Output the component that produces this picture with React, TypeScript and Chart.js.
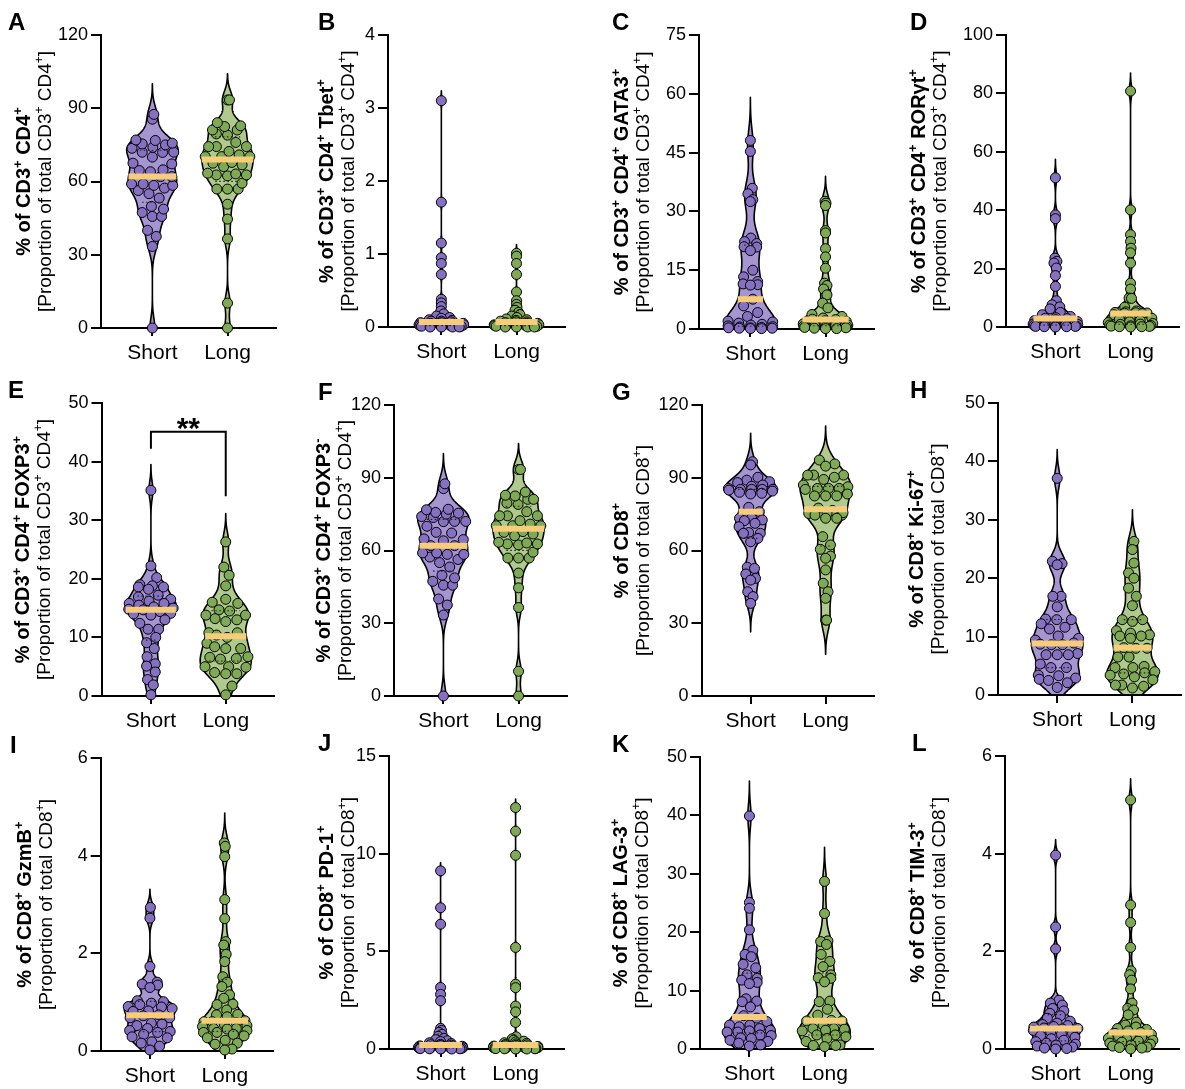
import React, { useEffect, useRef } from "react";
import { Chart, registerables } from "chart.js";

Chart.register(...registerables);

const FAMILY = "'Liberation Sans', Arial, Helvetica, sans-serif";

const categories = ["Short", "Long"];

// ---------- data ----------
const aShort = [0, 33.4, 37.5, 40, 45.7, 45.7, 47.3, 48.7, 49.8, 53.2, 55, 56.3, 57.3, 58.4, 58.4, 59, 59, 62, 62, 64, 64.5, 64.8, 67.2, 67.5, 70, 71.9, 72, 72, 73.6, 74, 75, 75.4, 75.7, 76.8, 77, 85.5, 87.5];
const aLong = [0, 10.2, 36.5, 44.6, 50.7, 56.9, 56.9, 56.9, 59.3, 62.3, 62.7, 62.7, 63.1, 63.4, 66.1, 66.8, 67.5, 67.8, 70.2, 70.2, 70.2, 70.9, 72.3, 74.3, 74.3, 74.3, 76, 79, 79.5, 81.1, 81.1, 82.5, 82.8, 84.1, 93.4, 93.4];

const bShort = [3.1, 1.71, 1.15, 0.95, 0.87, 0.72, 0.38, 0.33, 0.28, 0.22, 0.18, 0.15, 0.13, 0.12, 0.1, 0.09, 0.08, 0.08, 0.07, 0.06, 0.06, 0.05, 0.05, 0.04, 0.04, 0.03, 0.03, 0.02, 0.02, 0.02, 0.01, 0.01, 0.01, 0, 0, 0, 0];
const bLong = [1.01, 0.97, 0.87, 0.72, 0.48, 0.36, 0.31, 0.27, 0.23, 0.2, 0.17, 0.15, 0.13, 0.11, 0.1, 0.09, 0.08, 0.07, 0.07, 0.06, 0.05, 0.05, 0.04, 0.04, 0.03, 0.03, 0.02, 0.02, 0.02, 0.01, 0.01, 0.01, 0, 0, 0, 0];

const cShort = [48.1, 45.3, 35.9, 34.5, 33, 32.5, 23.2, 22.3, 21.8, 21, 20.9, 20, 15, 13.3, 12.1, 11.5, 11.3, 11.2, 7.6, 5.9, 4.2, 3.2, 2, 1.8, 1.5, 1.2, 1, 0.8, 0.6, 0.5, 0.4, 0.3, 0.3, 0.2, 0.2, 0.1, 0.1];
const cLong = [32.6, 32.1, 31.5, 25.1, 24.5, 20.5, 18.4, 15.5, 11.7, 11.1, 10.2, 8.7, 6.6, 5.4, 3.7, 3.2, 2.8, 2.5, 2.4, 2.1, 1.9, 1.7, 1.5, 1.3, 1.2, 1.0, 0.9, 0.8, 0.7, 0.6, 0.5, 0.4, 0.3, 0.2, 0.1, 0.1];

const dShort = [51.1, 38.4, 37.1, 23.6, 22.5, 21.9, 20.2, 17.6, 13.9, 9, 7.6, 6.9, 6.2, 5, 4.2, 3.6, 3.2, 3, 2.9, 2.5, 2.2, 1.9, 1.6, 1.4, 1.2, 1, 0.9, 0.7, 0.6, 0.5, 0.4, 0.3, 0.2, 0.2, 0.1, 0.1, 0];
const dLong = [80.8, 40.1, 31.6, 29.3, 27, 25.4, 21.9, 15, 13, 9.9, 9.8, 6.8, 5.5, 5.2, 5, 4.9, 4.8, 4.7, 4.6, 4.2, 3.3, 3, 2.6, 2.2, 1.8, 1.5, 1.2, 1, 0.9, 0.7, 0.5, 0.4, 0.3, 0.2, 0.1, 0.1, 0];

const eShort = [35.1, 22.2, 20.2, 19, 18.8, 18.6, 18.6, 18.2, 17.2, 16.9, 16.5, 16.2, 15.8, 15.8, 15.5, 15.2, 15, 14.8, 14.7, 14.4, 14.1, 14, 13.8, 13, 12.4, 11.4, 11.4, 10, 9.1, 8.1, 6.7, 5.5, 5.1, 4.1, 2.8, 1.9, 0.2];
const eLong = [26.3, 22, 20.6, 18.8, 16.5, 16, 15.8, 14.7, 14.5, 13.8, 13.8, 13.2, 13, 12.7, 10.8, 10.8, 10.4, 10, 9, 8.4, 8.1, 8.1, 6.7, 6.6, 6.4, 6.3, 5, 5, 4.9, 4, 3.8, 3.8, 1.7, 0.2];

const fShort = [...aShort];
const fLong = [...aLong];

const gShort = [96.6, 95.3, 90.2, 89, 88.4, 88, 87, 86.5, 85.6, 85.2, 85.2, 85.2, 85.2, 84.9, 84.5, 84, 83.6, 83.3, 77.8, 76, 73.3, 73.3, 72.6, 72.3, 71.2, 69.8, 67.4, 67.1, 67.1, 65, 63.6, 53.1, 52.6, 50.3, 48.5, 47.8, 43, 41, 38.2];
const gLong = [97.3, 95.7, 94.8, 91.1, 91.1, 91.1, 90.2, 89.3, 87, 86.3, 85.6, 85.6, 85.6, 85.2, 83.3, 82.5, 82.5, 82.5, 77.5, 76.5, 75.3, 75.3, 74.6, 74.6, 75.6, 73.3, 73.3, 65.7, 62.3, 60.5, 57.7, 56.8, 52, 46.5, 43, 40.3, 31.3, 31.3];

const hShort = [37.1, 22.9, 22.5, 22.3, 16.9, 16.9, 15.1, 13, 12.9, 12.9, 12.2, 11.6, 11.3, 10.1, 9.7, 9.4, 8.9, 8.7, 8.6, 8.6, 7.1, 6.9, 6.9, 6.9, 5.3, 4.7, 4.7, 3.4, 3.3, 2.9, 2.7, 2.5, 2.1, 1.3];
const hLong = [26.3, 24.9, 22.6, 20.9, 20, 18.3, 16.9, 15.3, 12.9, 12.9, 12.6, 11, 10.6, 10.3, 10.1, 10.1, 9.7, 8.1, 8, 8, 6.5, 6.5, 4.9, 4.7, 4.7, 4, 3.8, 3.6, 3.4, 3.1, 2.6, 1.7, 1.7, 1.5, 1.2];

const iShort = [2.94, 2.72, 1.73, 1.41, 1.37, 1.35, 1.3, 1.03, 1.01, 0.98, 0.95, 0.91, 0.9, 0.87, 0.82, 0.81, 0.74, 0.72, 0.68, 0.68, 0.57, 0.55, 0.52, 0.46, 0.42, 0.4, 0.38, 0.34, 0.29, 0.27, 0.19, 0.16, 0.1, 0.02];
const iLong = [4.26, 4.19, 3.98, 3.1, 2.71, 2.24, 2.17, 1.98, 1.83, 1.52, 1.41, 1.32, 1.15, 1.08, 0.96, 0.95, 0.84, 0.75, 0.74, 0.7, 0.62, 0.6, 0.6, 0.58, 0.55, 0.52, 0.5, 0.46, 0.46, 0.45, 0.42, 0.38, 0.38, 0.34, 0.31, 0.27, 0.22, 0.16, 0.14, 0.04, 0.02];

const jShort = [9.12, 7.23, 6.39, 3.15, 2.8, 2.47, 1.06, 0.95, 0.85, 0.75, 0.65, 0.55, 0.48, 0.42, 0.38, 0.32, 0.28, 0.24, 0.22, 0.2, 0.18, 0.16, 0.14, 0.12, 0.1, 0.09, 0.08, 0.07, 0.06, 0.05, 0.04, 0.03, 0.02, 0.02, 0.01, 0.01, 0, 0];
const jLong = [12.36, 11.15, 9.92, 5.2, 3.32, 3.14, 2.2, 1.9, 1.36, 0.63, 0.52, 0.45, 0.4, 0.36, 0.32, 0.29, 0.26, 0.23, 0.21, 0.19, 0.17, 0.15, 0.13, 0.11, 0.1, 0.09, 0.08, 0.07, 0.06, 0.05, 0.04, 0.03, 0.02, 0.02, 0.01, 0.01, 0, 0];

const kShort = [39.9, 25.1, 24.1, 20.4, 16.9, 16.2, 15.8, 14.5, 13.9, 12.7, 12.1, 11.8, 11.4, 11.2, 8.6, 8.2, 8.1, 7.2, 5.7, 5.3, 4.7, 4.1, 4.1, 3.8, 3.5, 3.2, 3.1, 2.9, 2.9, 2.4, 2.3, 1.9, 1.8, 1.5, 1.3, 1.0, 0.7, 0.5];
const kLong = [28.7, 23.2, 18.5, 18.4, 17.9, 16.2, 15, 14.1, 12.7, 12.2, 12.1, 11.5, 8.2, 8.1, 6.8, 5.8, 4.9, 4.8, 4.8, 4.1, 3.5, 3.5, 3.4, 3.2, 3.1, 2.4, 2.4, 2.1, 1.8, 1.3, 0.7, 0.6, 0.6, 0.4];

const lShort = [3.97, 2.5, 2.05, 1.0, 0.94, 0.9, 0.83, 0.78, 0.73, 0.68, 0.63, 0.57, 0.53, 0.5, 0.48, 0.46, 0.45, 0.43, 0.42, 0.41, 0.38, 0.35, 0.32, 0.3, 0.27, 0.24, 0.21, 0.18, 0.15, 0.12, 0.1, 0.08, 0.06, 0.04, 0.02, 0.01, 0];
const lLong = [5.1, 2.95, 2.59, 2.08, 1.6, 1.52, 1.41, 1.23, 0.94, 0.83, 0.8, 0.7, 0.55, 0.49, 0.45, 0.42, 0.4, 0.37, 0.34, 0.32, 0.3, 0.28, 0.26, 0.24, 0.22, 0.2, 0.18, 0.16, 0.14, 0.12, 0.1, 0.08, 0.06, 0.04, 0.03, 0.02, 0];

// axis maxima and tick steps
const yMaxes = [120, 4, 75, 100, 50, 120, 120, 50, 6, 15, 50, 6];
const ySteps = [30, 1, 15, 20, 10, 30, 30, 10, 2, 5, 10, 2];

const letters = ["A", "B", "C", "D", "E", "F", "G", "H", "I", "J", "K", "L"];
const titles = [
  "% of CD3^+ CD4^+",
  "% of CD3^+ CD4^+ Tbet^+",
  "% of CD3^+ CD4^+ GATA3^+",
  "% of CD3^+ CD4^+ RORγt^+",
  "% of CD3^+ CD4^+ FOXP3^+",
  "% of CD3^+ CD4^+ FOXP3^-",
  "% of CD8^+",
  "% of CD8^+ Ki-67^+",
  "% of CD8^+ GzmB^+",
  "% of CD8^+ PD-1^+",
  "% of CD8^+ LAG-3^+",
  "% of CD8^+ TIM-3^+",
];
const SUB_CD4 = "[Proportion of total CD3^+ CD4^+]";
const SUB_CD8 = "[Proportion of total CD8^+]";
const subtitles = [SUB_CD4, SUB_CD4, SUB_CD4, SUB_CD4, SUB_CD4, SUB_CD4, SUB_CD8, SUB_CD8, SUB_CD8, SUB_CD8, SUB_CD8, SUB_CD8];
const shortSeries = [aShort, bShort, cShort, dShort, eShort, fShort, gShort, hShort, iShort, jShort, kShort, lShort];
const longSeries = [aLong, bLong, cLong, dLong, eLong, fLong, gLong, hLong, iLong, jLong, kLong, lLong];

// significance annotation for panel E (bracket height, leg ends, label)
const sigPanel = 4;
const sigBracket = { top: 45.1, leftEnd: 42.2, rightEnd: 34.1, label: "**" };

// ---------- layout (page pixels) ----------
const layouts = [
  { axisX: 101, shortX: 154, top: 35, h: 293, colLeft: 0, titleX: 23, letterX: 8 },
  { axisX: 388, shortX: 443, top: 35, h: 292, colLeft: 296, titleX: 326, letterX: 318 },
  { axisX: 699, shortX: 752, top: 35, h: 294, colLeft: 592, titleX: 621, letterX: 612 },
  { axisX: 1006, shortX: 1057, top: 35, h: 292, colLeft: 888, titleX: 918, letterX: 910 },
  { axisX: 101.5, shortX: 152.7, top: 403, h: 293, colLeft: 0, titleX: 22, letterX: 8 },
  { axisX: 394, shortX: 445, top: 405, h: 291, colLeft: 296, titleX: 323, letterX: 318 },
  { axisX: 701.5, shortX: 752.3, top: 405, h: 291, colLeft: 592, titleX: 621, letterX: 612 },
  { axisX: 998, shortX: 1059, top: 403, h: 292, colLeft: 888, titleX: 916, letterX: 910 },
  { axisX: 100.7, shortX: 151.7, top: 758, h: 293, colLeft: 0, titleX: 24, letterX: 10 },
  { axisX: 389, shortX: 442.3, top: 756, h: 293, colLeft: 296, titleX: 326, letterX: 318 },
  { axisX: 700, shortX: 751, top: 757, h: 292, colLeft: 592, titleX: 620, letterX: 612 },
  { axisX: 1005, shortX: 1057.3, top: 756, h: 293, colLeft: 888, titleX: 917, letterX: 912 },
];

const PX_PER_CAT = 77.5;
const VIOLIN_HALF_PX = 26.5;
const BANDWIDTH_SCALE = 0.6;
const PAD_T = 32;
const PAD_B = 48;
const POINT_R = 5;

const COLORS = {
  fill: ["#A595D0", "#B0C98C"],
  point: ["#8570C2", "#7FAA55"],
  median: "#F8CD7A",
};

// ---------- helpers ----------
function quantile(s: number[], p: number) {
  const n = s.length;
  const pos = (n + 1) * p - 1;
  if (pos <= 0) return s[0];
  if (pos >= n - 1) return s[n - 1];
  const lo = Math.floor(pos);
  return s[lo] + (pos - lo) * (s[lo + 1] - s[lo]);
}

type Violin = { ys: number[]; w: number[]; med: number; q1: number; q3: number };

function buildViolin(values: number[]): Violin {
  const s = [...values].sort((a, b) => a - b);
  const n = s.length;
  const mean = s.reduce((a, b) => a + b, 0) / n;
  const sd = Math.sqrt(s.reduce((a, b) => a + (b - mean) ** 2, 0) / (n - 1));
  const q1 = quantile(s, 0.25);
  const q3 = quantile(s, 0.75);
  const med = quantile(s, 0.5);
  let spread = Math.min(sd, (q3 - q1) / 1.34);
  if (!(spread > 0)) spread = sd;
  const h = BANDWIDTH_SCALE * 0.9 * spread * Math.pow(n, -0.2);
  const lo = s[0] - 3 * h;
  const hi = s[n - 1] + 3 * h;
  const N = 500;
  const ys: number[] = [];
  const d: number[] = [];
  let mx = 0;
  for (let i = 0; i <= N; i++) {
    const y = lo + ((hi - lo) * i) / N;
    let acc = 0;
    for (const v of s) acc += Math.exp(-0.5 * ((y - v) / h) ** 2);
    ys.push(y);
    d.push(acc);
    if (acc > mx) mx = acc;
  }
  return { ys, w: d.map((v) => v / mx), med, q1, q3 };
}

function widthAt(v: Violin, y: number) {
  const { ys, w } = v;
  if (y <= ys[0] || y >= ys[ys.length - 1]) return 0;
  const step = ys[1] - ys[0];
  const f = (y - ys[0]) / step;
  const i = Math.floor(f);
  const t = f - i;
  return w[i] * (1 - t) + w[i + 1] * t;
}

function swarm(vals: number[], v: Violin, pxPerY: number) {
  const order = vals.map((_, i) => i).sort((a, b) => vals[a] - vals[b]);
  const D = 2 * POINT_R + 1.2;
  const placed: { x: number; y: number }[] = [];
  const offs = new Array(vals.length).fill(0);
  for (const i of order) {
    const py = vals[i] * pxPerY;
    const hw = widthAt(v, vals[i]) * VIOLIN_HALF_PX;
    const maxOff = Math.max(0, hw - 3);
    const cands: number[] = [0];
    for (let o = 0.5; o <= maxOff; o += 0.5) cands.push(o, -o);
    let best = 0;
    let bestCost = Infinity;
    for (const o of cands) {
      let ov = 0;
      for (const p of placed) {
        const dx = p.x - o;
        const dy = p.y - py;
        const dist = Math.sqrt(dx * dx + dy * dy);
        if (dist < D) ov += D - dist;
      }
      const cost = ov * 50 + Math.abs(o) * 0.1;
      if (cost < bestCost) {
        bestCost = cost;
        best = o;
      }
    }
    offs[i] = best;
    placed.push({ x: best, y: py });
  }
  return offs;
}

type Seg = { t: string; sup: boolean };
function segs(s: string): Seg[] {
  const out: Seg[] = [];
  let buf = "";
  for (let i = 0; i < s.length; i++) {
    if (s[i] === "^" && i + 1 < s.length) {
      if (buf) out.push({ t: buf, sup: false });
      buf = "";
      out.push({ t: s[i + 1], sup: true });
      i++;
    } else buf += s[i];
  }
  if (buf) out.push({ t: buf, sup: false });
  return out;
}

function drawRich(ctx: CanvasRenderingContext2D, text: string, x: number, y: number, size: number, weight: string) {
  const parts = segs(text);
  const fontOf = (p: Seg) => `${weight} ${p.sup ? Math.round(size * 0.64) : size}px ${FAMILY}`;
  let total = 0;
  const widths = parts.map((p) => {
    ctx.font = fontOf(p);
    const w = ctx.measureText(p.t).width;
    total += w;
    return w;
  });
  ctx.save();
  ctx.translate(x, y);
  ctx.rotate(-Math.PI / 2);
  ctx.fillStyle = "#000";
  ctx.textAlign = "left";
  ctx.textBaseline = "alphabetic";
  let cx = -total / 2;
  const base = size * 0.36;
  parts.forEach((p, i) => {
    ctx.font = fontOf(p);
    ctx.fillText(p.t, cx, p.sup ? base - size * 0.42 : base);
    cx += widths[i];
  });
  ctx.restore();
}

// ---------- panel ----------
function ViolinPanel({ idx }: { idx: number }) {
  const ref = useRef<HTMLCanvasElement | null>(null);
  const l = layouts[idx];
  const L = l.axisX - l.colLeft;
  const Wplot = l.shortX - l.axisX + 127.5;
  const W = Math.round(L + Wplot);
  const H = PAD_T + l.h + PAD_B;

  useEffect(() => {
    const canvas = ref.current;
    if (!canvas) return;
    const yMax = yMaxes[idx];
    const xMin = -(l.shortX - l.axisX) / PX_PER_CAT;
    const xMax = xMin + Wplot / PX_PER_CAT;
    const pxPerY = l.h / yMax;
    const series = [shortSeries[idx], longSeries[idx]];
    const groups = series.map((vals, gi) => {
      const v = buildViolin(vals);
      const offs = swarm(vals, v, pxPerY);
      return { v, pts: vals.map((y, i) => ({ x: gi + offs[i] / PX_PER_CAT, y })) };
    });
    const HW = VIOLIN_HALF_PX / PX_PER_CAT;

    const plugin = {
      id: "violins" + idx,
      beforeDatasetsDraw(chart: any) {
        const { ctx, chartArea: a, scales } = chart;
        const xs = scales.x;
        const ysc = scales.y;
        ctx.save();
        ctx.beginPath();
        ctx.rect(a.left, a.top - 2, a.right - a.left, a.bottom - a.top + 1);
        ctx.clip();
        groups.forEach((g, gi) => {
          const v = g.v;
          ctx.beginPath();
          for (let i = 0; i < v.ys.length; i++) {
            const px = xs.getPixelForValue(gi - HW * v.w[i]);
            const py = ysc.getPixelForValue(v.ys[i]);
            if (i === 0) ctx.moveTo(px, py);
            else ctx.lineTo(px, py);
          }
          for (let i = v.ys.length - 1; i >= 0; i--) {
            ctx.lineTo(xs.getPixelForValue(gi + HW * v.w[i]), ysc.getPixelForValue(v.ys[i]));
          }
          ctx.closePath();
          ctx.fillStyle = COLORS.fill[gi];
          ctx.fill();
          ctx.lineWidth = 1.6;
          ctx.lineJoin = "round";
          ctx.strokeStyle = "#000";
          ctx.stroke();
        });
        ctx.restore();
      },
      afterDatasetsDraw(chart: any) {
        const { ctx, scales } = chart;
        const xs = scales.x;
        const ysc = scales.y;
        ctx.save();
        groups.forEach((g, gi) => {
          const v = g.v;
          // quartiles
          ctx.setLineDash([1.5, 2.5]);
          ctx.lineWidth = 1.2;
          ctx.strokeStyle = "#222";
          [v.q1, v.q3].forEach((q) => {
            const hw = HW * widthAt(v, q) * 0.65;
            if (hw * PX_PER_CAT < 3) return;
            ctx.beginPath();
            ctx.moveTo(xs.getPixelForValue(gi - hw), ysc.getPixelForValue(q));
            ctx.lineTo(xs.getPixelForValue(gi + hw), ysc.getPixelForValue(q));
            ctx.stroke();
          });
          ctx.setLineDash([]);
          // median
          const mw = HW * widthAt(v, v.med);
          ctx.lineWidth = 6;
          ctx.lineCap = "butt";
          ctx.strokeStyle = COLORS.median;
          ctx.beginPath();
          ctx.moveTo(xs.getPixelForValue(gi - mw), ysc.getPixelForValue(v.med));
          ctx.lineTo(xs.getPixelForValue(gi + mw), ysc.getPixelForValue(v.med));
          ctx.stroke();
        });
        if (idx === sigPanel) {
          const s = sigBracket;
          ctx.strokeStyle = "#000";
          ctx.lineWidth = 2;
          ctx.beginPath();
          ctx.moveTo(xs.getPixelForValue(0), ysc.getPixelForValue(s.leftEnd));
          ctx.lineTo(xs.getPixelForValue(0), ysc.getPixelForValue(s.top));
          ctx.lineTo(xs.getPixelForValue(1), ysc.getPixelForValue(s.top));
          ctx.lineTo(xs.getPixelForValue(1), ysc.getPixelForValue(s.rightEnd));
          ctx.stroke();
          ctx.fillStyle = "#000";
          ctx.font = `bold 30px ${FAMILY}`;
          ctx.textAlign = "center";
          ctx.textBaseline = "alphabetic";
          ctx.fillText(s.label, xs.getPixelForValue(0.5), ysc.getPixelForValue(s.top) + 6);
        }
        ctx.restore();
      },
      afterDraw(chart: any) {
        const { ctx, chartArea: a } = chart;
        ctx.save();
        ctx.fillStyle = "#000";
        ctx.font = `bold 24px ${FAMILY}`;
        ctx.textAlign = "left";
        ctx.textBaseline = "alphabetic";
        ctx.fillText(letters[idx], l.letterX - l.colLeft, PAD_T - 5);
        const cy = (a.top + a.bottom) / 2;
        drawRich(ctx, titles[idx], l.titleX - l.colLeft, cy, 20, "bold");
        drawRich(ctx, subtitles[idx], l.titleX - l.colLeft + 21, cy, 19, "normal");
        ctx.restore();
      },
    };

    const chart = new Chart(canvas, {
      type: "scatter",
      data: {
        datasets: groups.map((g, gi) => ({
          label: categories[gi],
          data: g.pts,
          backgroundColor: COLORS.point[gi],
          borderColor: "#000",
          borderWidth: 1,
          pointRadius: POINT_R,
          pointHoverRadius: POINT_R,
          clip: false as any,
        })),
      },
      options: {
        animation: false,
        responsive: false,
        devicePixelRatio: 1,
        events: [],
        layout: { padding: { top: PAD_T, left: 0, right: 0, bottom: 0 } },
        plugins: { legend: { display: false }, tooltip: { enabled: false } },
        scales: {
          x: {
            type: "linear",
            min: xMin,
            max: xMax,
            afterBuildTicks: (s: any) => {
              s.ticks = categories.map((_, i) => ({ value: i }));
            },
            afterFit: (s: any) => {
              s.height = PAD_B;
            },
            ticks: {
              autoSkip: false,
              maxRotation: 0,
              padding: 5,
              color: "#000",
              font: { size: 21, family: FAMILY },
              callback: (val: any) => categories[Math.round(Number(val))] ?? "",
            },
            grid: { drawOnChartArea: false, drawTicks: true, tickLength: 8, color: "#000", lineWidth: 2 },
            border: { display: true, color: "#000", width: 2 },
          },
          y: {
            min: 0,
            max: yMax,
            afterFit: (s: any) => {
              s.width = L;
            },
            ticks: {
              stepSize: ySteps[idx],
              padding: 3,
              color: "#000",
              font: { size: 18, family: FAMILY },
            },
            grid: { drawOnChartArea: false, drawTicks: true, tickLength: 10, color: "#000", lineWidth: 2 },
            border: { display: true, color: "#000", width: 2 },
          },
        },
      },
      plugins: [plugin],
    } as any);
    return () => chart.destroy();
  }, [idx]);

  return (
    <canvas
      ref={ref}
      width={W}
      height={H}
      style={{ position: "absolute", left: l.colLeft, top: l.top - PAD_T, width: W, height: H }}
    />
  );
}

export default function App() {
  return (
    <div style={{ position: "absolute", left: 0, top: 0, width: 1185, height: 1089, background: "#fff" }}>
      {layouts.map((_, i) => (
        <ViolinPanel key={i} idx={i} />
      ))}
    </div>
  );
}
